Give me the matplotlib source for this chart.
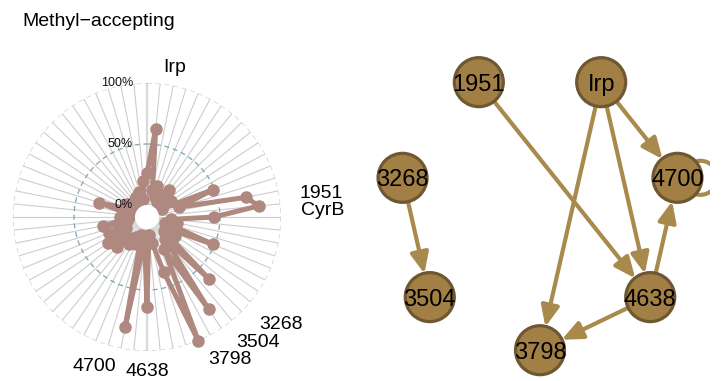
import numpy as np
import matplotlib
matplotlib.use("Agg")
import matplotlib.pyplot as plt
from matplotlib.patches import Circle, Ellipse, FancyArrowPatch
from matplotlib.transforms import offset_copy

plt.rcParams['font.family'] = ['Liberation Sans', 'DejaVu Sans']

# ---------------- data ----------------
title = "Methyl\u2212accepting"

# share (%) for each of the 64 targets, clockwise from the top
values = [26, 63, 13, 17, 8, 12, 5, 19, 10, 6, 14, 4, 49, 18, 73, 82,
          45, 10, 15, 6, 49, 12, 18, 8, 62, 14, 81, 20, 100, 37, 12, 5,
          64, 10, 82, 6, 14, 9, 17, 12, 25, 15, 29, 10, 24, 8, 27, 6,
          12, 4, 9, 31, 8, 3, 10, 4, 6, 2, 8, 9, 3, 12, 5, 20]

# named targets and their position in the ring
label_names = ["Irp", "1951", "CyrB", "3268", "3504", "3798", "4638", "4700"]
label_index = [1, 15, 16, 24, 26, 28, 32, 34]

r_ticks = [0, 50, 100]
r_tick_labels = ["0%", "50%", "100%"]

# regulatory network (circle layout order, counter-clockwise from bottom)
nodes = ["3798", "4638", "4700", "Irp", "1951", "3268", "3504"]
edge_src = ["1951", "Irp", "Irp", "Irp", "4638", "4638", "3268", "4700"]
edge_dst = ["4638", "3798", "4638", "4700", "4700", "3798", "3504", "4700"]

# ---------------- layout / style ----------------
# repelled label placement around the ring: (angle in degrees, radius in %)
label_place = {"Irp": (10.6, 115), "1951": (82.4, 134), "CyrB": (88.0, 134),
               "3268": (128.9, 131), "3504": (138.7, 127.5), "3798": (150.0, 125.5),
               "4638": (179.8, 117), "4700": (199.3, 120.4)}

line_col = "#AF897F"
spoke_col = "#CDCDCD"
mid_col = "#7FA5B5"
node_fill = "#A17F45"
node_edge = "#6F5831"
edge_col = "#A88A4D"

W, H = 722, 381
fig = plt.figure(figsize=(W / 100, H / 100), dpi=100)
fig.patch.set_facecolor("white")

fig.text(22 / W, 1 - 22 / H, title, fontsize=14, ha="left", va="center")

# ---------------- radial chart ----------------
cx, cy, R, hole = 147, 217, 134, 12
ax = fig.add_axes([(cx - R) / W, (H - cy - R) / H, 2 * R / W, 2 * R / H],
                  projection="polar")
ax.set_theta_zero_location("N")
ax.set_theta_direction(-1)
ax.set_ylim(0, 100)
ax.set_rorigin(-100 * hole / (R - hole))
ax.grid(False)
ax.set_xticks([])
ax.set_yticks([])
for sp in ax.spines.values():
    sp.set_visible(False)
    sp.set_edgecolor("none")
    sp.set_linewidth(0)
ax.patch.set_alpha(0)

n = len(values)
theta = 2 * np.pi * np.arange(n) / n

for t in theta:
    ax.plot([t, t], [0, 100], color=spoke_col, lw=0.8, zorder=1)
for t in (0, np.pi):
    ax.plot([t, t], [0, 100], color="#DADADA", lw=1.6, zorder=1)

ring = np.linspace(0, 2 * np.pi, 400)
ax.plot(ring, np.full_like(ring, 100), color=spoke_col, lw=0.9,
        ls=(0, (4, 3)), zorder=1)
ax.plot(ring, np.full_like(ring, 50), color=mid_col, lw=0.9,
        ls=(0, (4, 3)), zorder=1)

tt = np.append(theta, theta[0])
vv = np.append(values, values[0])
ax.plot(tt, vv, color=line_col, lw=3.6, solid_joinstyle="round",
        solid_capstyle="round", zorder=3, clip_on=False)
ax.plot(theta, values, "o", color=line_col, ms=8, zorder=4, clip_on=False)

# white core of the ring
fig.add_artist(Ellipse((cx / W, 1 - cy / H), 2 * hole / W, 2 * hole / H,
                       transform=fig.transFigure, facecolor="white",
                       edgecolor="none", zorder=10))

tick_tr = offset_copy(ax.transData, fig=fig, x=-14, y=0, units="dots")
for rv, lab in zip(r_ticks, r_tick_labels):
    ax.text(0, rv, lab, transform=tick_tr, ha="right", va="center",
            fontsize=9, color="#111111", zorder=5)

for name in label_names:
    ang, rad = label_place[name]
    ax.text(np.deg2rad(ang), rad, name, ha="center", va="center",
            fontsize=14, color="black", clip_on=False)

# ---------------- network ----------------
ncx, ncy, scale, half = 540, 209.2, 141, 170
nax = fig.add_axes([(ncx - half) / W, (H - ncy - half) / H, 2 * half / W, 2 * half / H])
lim = half / scale
nax.set_xlim(-lim, lim)
nax.set_ylim(-lim, lim)
nax.axis("off")

k = len(nodes)
ang = np.deg2rad(-90 + 360 * np.arange(k) / k)
pos = {nm: (np.cos(a), np.sin(a)) for nm, a in zip(nodes, ang)}

node_r = 24.5 / scale
shrink_pts = 24.0 * 72 / 100

for s, d in zip(edge_src, edge_dst):
    if s == d:
        x, y = pos[s]
        loop = Circle((x + 23 / scale, y), 17 / scale, fill=False,
                      edgecolor=edge_col, lw=3.0, zorder=1)
        nax.add_patch(loop)
        continue
    arr = FancyArrowPatch(pos[s], pos[d],
                          arrowstyle="-|>,head_length=1.25,head_width=0.55",
                          mutation_scale=10, shrinkA=0, shrinkB=shrink_pts,
                          color=edge_col, lw=3.0, zorder=2)
    nax.add_patch(arr)

for nm in nodes:
    x, y = pos[nm]
    nax.add_patch(Circle((x, y), node_r, facecolor=node_fill,
                         edgecolor=node_edge, lw=2.3, zorder=3))
    nax.text(x, y, nm, ha="center", va="center_baseline", fontsize=17,
             color="black", zorder=4)

fig.savefig("out.png", dpi=100)
